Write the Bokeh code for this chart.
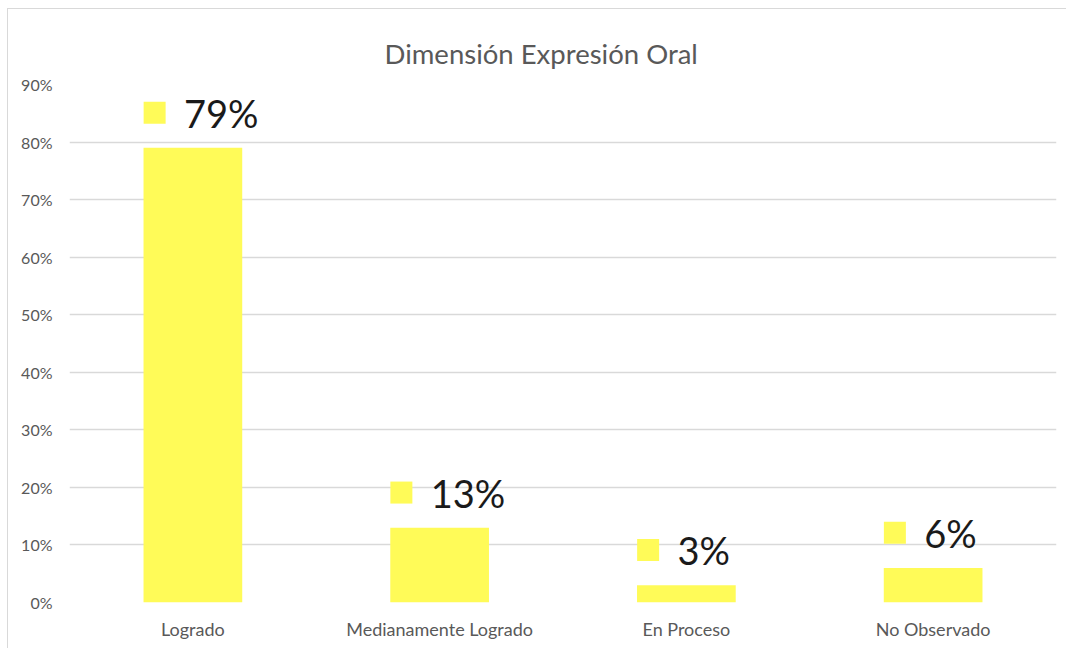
from bokeh.plotting import figure
from bokeh.models import NumeralTickFormatter, FixedTicker, ColumnDataSource
from bokeh.core.properties import value
from bokeh.transform import dodge
from bokeh.embed import file_html
from bokeh.resources import INLINE

# Data
categories = ["Logrado", "Medianamente Logrado", "En Proceso", "No Observado"]
percent_values = [79, 13, 3, 6]
y_ticks = [0.0, 0.1, 0.2, 0.3, 0.4, 0.5, 0.6, 0.7, 0.8, 0.9]
chart_title = "Dimensión Expresión Oral"

fractions = [v / 100 for v in percent_values]
label_y = [f + 0.061 for f in fractions]
label_text = [f"{v}%" for v in percent_values]

src = ColumnDataSource(dict(cat=categories, val=fractions, ly=label_y, txt=label_text))

BAR = "#fffb58"
GREY_TEXT = "#595959"
GRID = "#d9d9d9"
FONT = "Lato"

p = figure(
    x_range=categories, y_range=(0, 0.9),
    width=1059, height=640,
    output_backend="svg", toolbar_location=None,
    min_border_left=61, min_border_right=11,
    min_border_top=75, min_border_bottom=47,
    title=chart_title,
)
p.styles = {
    "margin-left": "7px", "margin-top": "8px",
    "border-left": f"1px solid {GRID}", "border-top": f"1px solid {GRID}",
}

# title centred over the whole chart box rather than the plot frame
p.title.align = "left"
p.title.offset = 315
p.title.vertical_align = "top"
p.title.standoff = 26
p.title.text_font = FONT
p.title.text_font_size = "27.5px"
p.title.text_font_style = "normal"
p.title.text_color = GREY_TEXT

p.vbar(x="cat", top="val", width=0.4, source=src, color=BAR, line_color=None)

# data-label keys and values
p.rect(x=dodge("cat", -0.155, range=p.x_range), y="ly", width=22, height=22,
       width_units="screen", height_units="screen", source=src,
       fill_color=BAR, line_color=None)
p.text(x="cat", y="ly", text="txt", x_offset=-9, source=src,
       text_font=value(FONT), text_font_size="38px", text_color="#1a1a1a",
       text_baseline="middle", text_align="left")

p.outline_line_color = None
p.background_fill_color = "white"
p.border_fill_color = "white"

p.xgrid.grid_line_color = None
p.ygrid.grid_line_color = GRID
p.ygrid.grid_line_width = 1.5
p.yaxis.ticker = FixedTicker(ticks=y_ticks)
p.yaxis.formatter = NumeralTickFormatter(format="0%")

for ax in (p.xaxis, p.yaxis):
    ax.axis_line_color = None
    ax.major_tick_line_color = None
    ax.minor_tick_line_color = None
    ax.major_label_text_color = GREY_TEXT
    ax.major_label_text_font = FONT

p.yaxis.major_label_text_font_size = "16px"
p.yaxis.major_label_standoff = 11
p.xaxis.major_label_text_font_size = "18px"
p.xaxis.major_label_standoff = 9

open("out.html", "w").write(file_html(p, INLINE))
